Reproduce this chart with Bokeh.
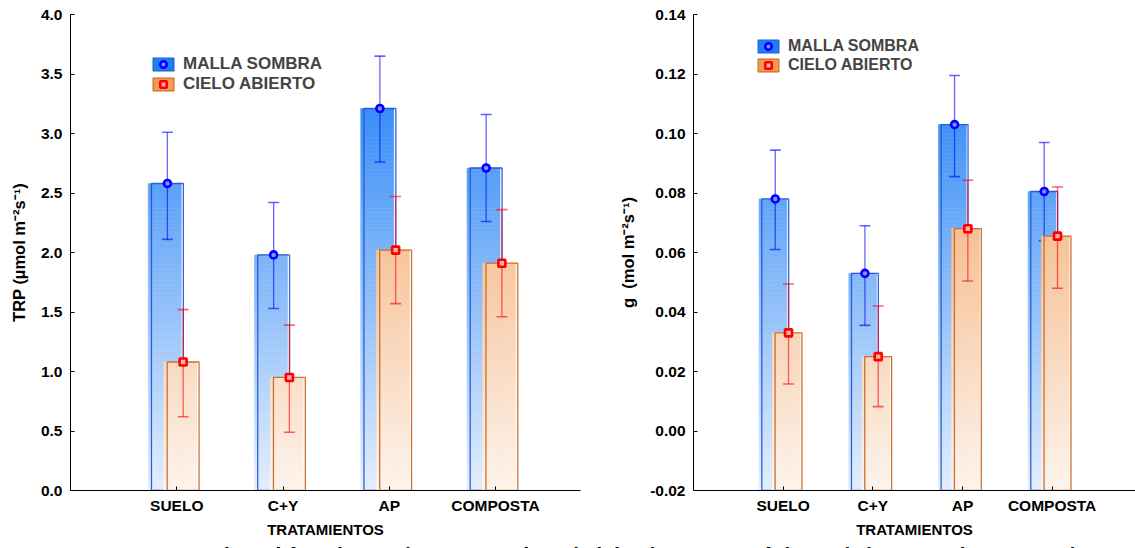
import numpy as np
from bokeh.plotting import figure
from bokeh.models import (Range1d, FixedTicker, NumeralTickFormatter, Legend,
                          LegendItem, Div)
from bokeh.layouts import row, column
from bokeh.embed import file_html
from bokeh.resources import INLINE

# ---------------- data ----------------
categories = ["SUELO", "C+Y", "AP", "COMPOSTA"]
series_names = ["MALLA SOMBRA", "CIELO ABIERTO"]

# Transpiración TRP (µmol m-2 s-1)
trp_malla = [2.58, 1.98, 3.21, 2.71]
trp_malla_lo = [2.11, 1.53, 2.76, 2.26]
trp_malla_hi = [3.01, 2.42, 3.65, 3.16]
trp_cielo = [1.08, 0.95, 2.02, 1.91]
trp_cielo_lo = [0.62, 0.49, 1.57, 1.46]
trp_cielo_hi = [1.52, 1.39, 2.47, 2.36]

# Conductividad estomática g (mol m-2 s-1)
g_malla = [0.078, 0.053, 0.103, 0.0805]
g_malla_lo = [0.061, 0.0355, 0.0855, 0.064]
g_malla_hi = [0.0944, 0.069, 0.1195, 0.097]
g_cielo = [0.033, 0.025, 0.068, 0.0655]
g_cielo_lo = [0.0158, 0.0082, 0.0504, 0.048]
g_cielo_hi = [0.0494, 0.042, 0.0843, 0.082]

trp_ticks = [0.0, 0.5, 1.0, 1.5, 2.0, 2.5, 3.0, 3.5, 4.0]
g_ticks = [-0.02, 0.0, 0.02, 0.04, 0.06, 0.08, 0.10, 0.12, 0.14]

caption = "24. Transpiración (TRP) y conductividad estomática (g) en plantas de tomate"

# ---------------- style ----------------
FONT = "Liberation Sans"
BLUE_BOT, BLUE_TOP = (228, 239, 252), (15, 118, 246)
ORNG_BOT, ORNG_TOP = (253, 244, 237), (242, 150, 75)
BLUE_EDGE, ORNG_EDGE = "#2052d0", "#c3641e"
NB = 120
OFF_M, OFF_C = -0.088, 0.06
BAR_W = 0.30
FILL_SHIFT = -0.03
FIG_H, TOP_B, BOT_B = 540, 14, 49


def lerp_hex(c0, c1, t):
    t = min(max(t, 0.0), 1.0)
    return "#%02x%02x%02x" % tuple(int(round(a + (b - a) * t)) for a, b in zip(c0, c1))


def gradient_bars(p, centers, values, y0, y1, cbot, ctop, edge, shift):
    edges = np.linspace(y0, y1, NB + 1)
    L, R, B, T, C = [], [], [], [], []
    for c, v in zip(centers, values):
        for k in range(NB):
            b0, b1 = edges[k], edges[k + 1]
            if b0 >= v:
                break
            top = min(b1, v)
            t = ((b0 + top) / 2 - y0) / (y1 - y0)
            L.append(c - BAR_W / 2 + shift)
            R.append(c + BAR_W / 2 + shift + 0.01)
            B.append(b0)
            T.append(top)
            C.append(lerp_hex(cbot, ctop, t))
    p.quad(left=L, right=R, bottom=B, top=T, fill_color=C, line_color=C, line_width=0.6)
    cs = list(centers)
    p.quad(left=[c - BAR_W / 2 for c in cs], right=[c + BAR_W / 2 for c in cs],
           bottom=[y0] * len(cs), top=list(values), fill_color=None,
           line_color=edge, line_width=1.3, line_alpha=0.9)


def errbars(p, xs, vals, lo, hi, color, marker, mfill):
    p.segment(x0=xs, y0=lo, x1=xs, y1=hi, line_color=color, line_alpha=0.6, line_width=1.3)
    p.scatter(x=xs, y=lo, marker="dash", size=11, line_color=color, line_alpha=0.6, line_width=1.6)
    p.scatter(x=xs, y=hi, marker="dash", size=11, line_color=color, line_alpha=0.6, line_width=1.6)
    return p.scatter(x=xs, y=vals, marker=marker, size=7, line_color=color,
                     line_width=2.6, fill_color=mfill)


def make_panel(m, m_lo, m_hi, c, c_lo, c_hi, ticks, fmt, ylabel, width, bl, br, xmax,
               leg_loc, leg_font, leg_spacing):
    y0, y1 = ticks[0], ticks[-1]
    p = figure(width=width, height=FIG_H, min_border_left=bl, min_border_right=br,
               min_border_top=TOP_B, min_border_bottom=BOT_B,
               x_range=Range1d(0, xmax), y_range=Range1d(y0, y1),
               output_backend="svg", toolbar_location=None)
    p.outline_line_color = None
    p.grid.visible = False
    p.background_fill_color = "white"

    pos = np.arange(1, len(categories) + 1)
    xm = pos + OFF_M
    xc = pos + OFF_C

    gradient_bars(p, xm, m, y0, y1, BLUE_BOT, BLUE_TOP, BLUE_EDGE, FILL_SHIFT)
    rm = errbars(p, list(xm), m, m_lo, m_hi, "#0000ff", "circle", "#8c8cff")
    gradient_bars(p, xc, c, y0, y1, ORNG_BOT, ORNG_TOP, ORNG_EDGE, FILL_SHIFT)
    rc = errbars(p, list(xc), c, c_lo, c_hi, "#ff0000", "square", "#ffb0b0")

    # legend swatches (off-data placeholders)
    nan = [np.nan]
    qm = p.quad(left=nan, right=nan, bottom=nan, top=nan, fill_color="#1e7ff8",
                line_color="#2060d0", line_width=1.2)
    qc = p.quad(left=nan, right=nan, bottom=nan, top=nan, fill_color="#f59a52",
                line_color="#c8702a", line_width=1.2)
    legend = Legend(items=[LegendItem(label=series_names[0], renderers=[qm, rm]),
                           LegendItem(label=series_names[1], renderers=[qc, rc])],
                    location=leg_loc, glyph_width=26, glyph_height=16, label_height=16,
                    label_standoff=7, spacing=leg_spacing, padding=0, margin=0,
                    border_line_color=None, background_fill_alpha=0,
                    label_text_font=FONT, label_text_font_style="bold",
                    label_text_font_size=leg_font)
    p.add_layout(legend)

    for ax in (p.xaxis[0], p.yaxis[0]):
        ax.axis_line_color = "black"
        ax.axis_line_width = 1
        ax.major_tick_line_color = "black"
        ax.major_tick_in = 4
        ax.major_tick_out = 0
        ax.minor_tick_line_color = None
        ax.major_label_text_font = FONT
        ax.major_label_text_font_style = "bold"
        ax.major_label_text_font_size = "15.5px"
        ax.major_label_text_color = "black"
        ax.axis_label_text_font = FONT
        ax.axis_label_text_font_style = "bold"
        ax.axis_label_text_color = "black"

    p.xaxis.ticker = FixedTicker(ticks=list(pos))
    p.xaxis.major_label_overrides = {int(i): n for i, n in zip(pos, categories)}
    p.xaxis.axis_label = "TRATAMIENTOS"
    p.xaxis.axis_label_text_font_size = "15px"
    p.xaxis.major_label_standoff = 6
    p.xaxis.axis_label_standoff = 4

    p.yaxis.ticker = FixedTicker(ticks=ticks)
    p.yaxis.formatter = NumeralTickFormatter(format=fmt)
    p.yaxis.axis_label = ylabel
    p.yaxis.axis_label_text_font_size = "16.5px"
    p.yaxis.major_label_standoff = 8
    p.yaxis.axis_label_standoff = 10
    return p


p1 = make_panel(trp_malla, trp_malla_lo, trp_malla_hi, trp_cielo, trp_cielo_lo, trp_cielo_hi,
                trp_ticks, "0.0", "TRP (µmol m⁻²s⁻¹)", 608, 70, 28, 4.8, (80, 396), "17px", 0)
p2 = make_panel(g_malla, g_malla_lo, g_malla_hi, g_cielo, g_cielo_lo, g_cielo_hi,
                g_ticks, "0.00", "g\u00a0\u00a0(mol m⁻²s⁻¹)", 527, 85, 0, 4.93, (62, 416),
                "16px", 1)

# cropped caption line below the two panels (only the top of the glyphs is visible)
cap = Div(text=('<div style="font-family:\'Liberation Sans\',Arial,sans-serif;font-size:32px;'
                'line-height:32px;white-space:nowrap;margin-top:-2px;padding-left:62px;'
                'word-spacing:5px;color:#000">' + caption + '</div>'),
          width=1135, height=8, styles={"overflow": "hidden"})

layout = column(row(p1, p2), cap)
open("out.html", "w").write(file_html(layout, INLINE))
